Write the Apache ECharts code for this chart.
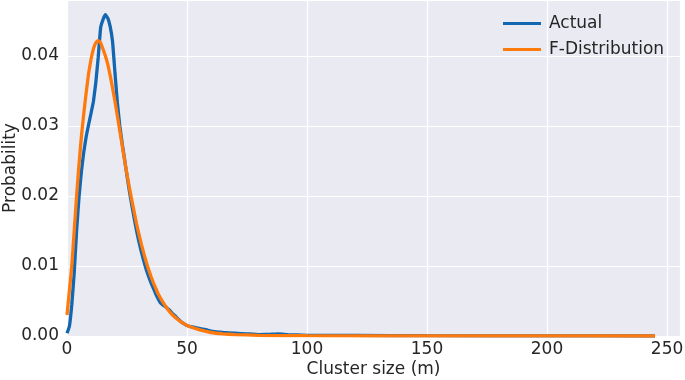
<!DOCTYPE html>
<html>
<head>
<meta charset="utf-8">
<script src="https://cdn.jsdelivr.net/npm/echarts@6/dist/echarts.min.js"></script>
<style>html,body{margin:0;padding:0;background:#fff}#c{width:685px;height:380px}</style>
</head>
<body>
<div id="c"></div>
<script>
const xTicks = [0, 50, 100, 150, 200, 250];
const yTicks = [0.00, 0.01, 0.02, 0.03, 0.04];

const actualX = [0,1,2,3,4,5,6,7,8,9,10,11,12,13,14,15,16,17,18,19,20,21,22,23,24,25,26,27,28,29,30,31,32,33,34,35,36,37,38,39,40,41,42,43,44,45,46,47,48,49,50,52,55,58,60,65,70,75,80,85,88,92,100,120,150,200,245];
const actualY = [0.0004,0.0014,0.0045,0.009,0.015,0.0198,0.0235,0.0263,0.0285,0.0302,0.0318,0.0335,0.0362,0.0398,0.0440,0.0452,0.0459,0.0454,0.0442,0.0420,0.0375,0.0333,0.0300,0.0275,0.0252,0.0229,0.0207,0.0187,0.0168,0.0150,0.0134,0.0120,0.0107,0.0095,0.0085,0.0076,0.0068,0.0060,0.0053,0.0047,0.0044,0.0042,0.0039,0.0036,0.0032,0.0029,0.0025,0.0022,0.0019,0.0017,0.0015,0.0013,0.0011,0.0009,0.0007,0.0005,0.0004,0.0003,0.0002,0.00025,0.0003,0.0002,0.0001,0.00008,0.00004,0.00002,0.0];

const fitX = [0,1,2,3,4,5,6,7,8,9,10,11,12,13,14,15,16,17,18,19,20,21,22,23,24,25,26,27,28,29,30,31,32,33,34,35,36,37,38,39,40,42,44,46,48,50,55,60,65,70,80,100,150,245];
const fitY = [0.003,0.0065,0.010,0.015,0.020,0.0245,0.0285,0.0318,0.0348,0.0375,0.0395,0.0410,0.0419,0.0422,0.0419,0.0410,0.0400,0.0388,0.0372,0.0354,0.0335,0.0314,0.0293,0.0272,0.0251,0.0231,0.0212,0.0194,0.0177,0.0160,0.0145,0.0131,0.0118,0.0106,0.0095,0.0085,0.0076,0.0068,0.0060,0.0054,0.0048,0.0038,0.0030,0.0024,0.0019,0.0015,0.0009,0.0005,0.0003,0.0002,0.0001,0.00004,0.00001,0.0];

const seriesNames = ['Actual', 'F-Distribution'];
const colors = ['#1366b0', '#ff7a0c'];

const chart = echarts.init(document.getElementById('c'), null, {renderer: 'canvas'});
const font = 'DejaVu Sans';
chart.setOption({
  animation: false,
  backgroundColor: '#ffffff',
  color: colors,
  grid: {left: 67, right: 5, top: 0, bottom: 44, show: true, backgroundColor: '#EAEAF2', borderWidth: 0,
         containLabel: false, outerBoundsMode: 'none'},
  legend: {
    orient: 'vertical', left: 498, top: 10, itemWidth: 38, itemHeight: 3, itemGap: 9,
    icon: 'rect',
    textStyle: {fontFamily: font, fontSize: 17, color: '#262626', padding: [0, 0, 0, 3]},
    data: seriesNames
  },
  xAxis: {
    type: 'value', min: 0, max: 255.4, interval: 50,
    axisLine: {show: false}, axisTick: {show: false},
    splitLine: {show: true, lineStyle: {color: '#ffffff', width: 1.2}},
    axisLabel: {showMaxLabel: false, fontFamily: font, fontSize: 17, color: '#262626', margin: 5,
      formatter: v => xTicks.includes(v) ? String(v) : ''},
    name: 'Cluster size (m)', nameLocation: 'middle', nameGap: 25, nameMoveOverlap: false,
    nameTextStyle: {fontFamily: font, fontSize: 17, color: '#262626'}
  },
  yAxis: {
    type: 'value', min: 0, max: 0.048, interval: 0.01,
    axisLine: {show: false}, axisTick: {show: false},
    splitLine: {show: true, lineStyle: {color: '#ffffff', width: 1.2}},
    axisLabel: {showMaxLabel: false, fontFamily: font, fontSize: 17, color: '#262626', margin: 8,
      formatter: v => yTicks.some(t => Math.abs(t - v) < 1e-9) ? v.toFixed(2) : ''},
    name: 'Probability', nameLocation: 'middle', nameGap: 48, nameMoveOverlap: false,
    nameTextStyle: {fontFamily: font, fontSize: 17, color: '#262626'}
  },
  series: [
    {name: seriesNames[0], type: 'line', showSymbol: false, smooth: 0.1,
     lineStyle: {width: 3.3, color: colors[0]}, itemStyle: {color: colors[0]},
     data: actualX.map((x, i) => [x, actualY[i]])},
    {name: seriesNames[1], type: 'line', showSymbol: false, smooth: 0.1,
     lineStyle: {width: 3.3, color: colors[1]}, itemStyle: {color: colors[1]},
     data: fitX.map((x, i) => [x, fitY[i]])}
  ]
});
</script>
</body>
</html>
